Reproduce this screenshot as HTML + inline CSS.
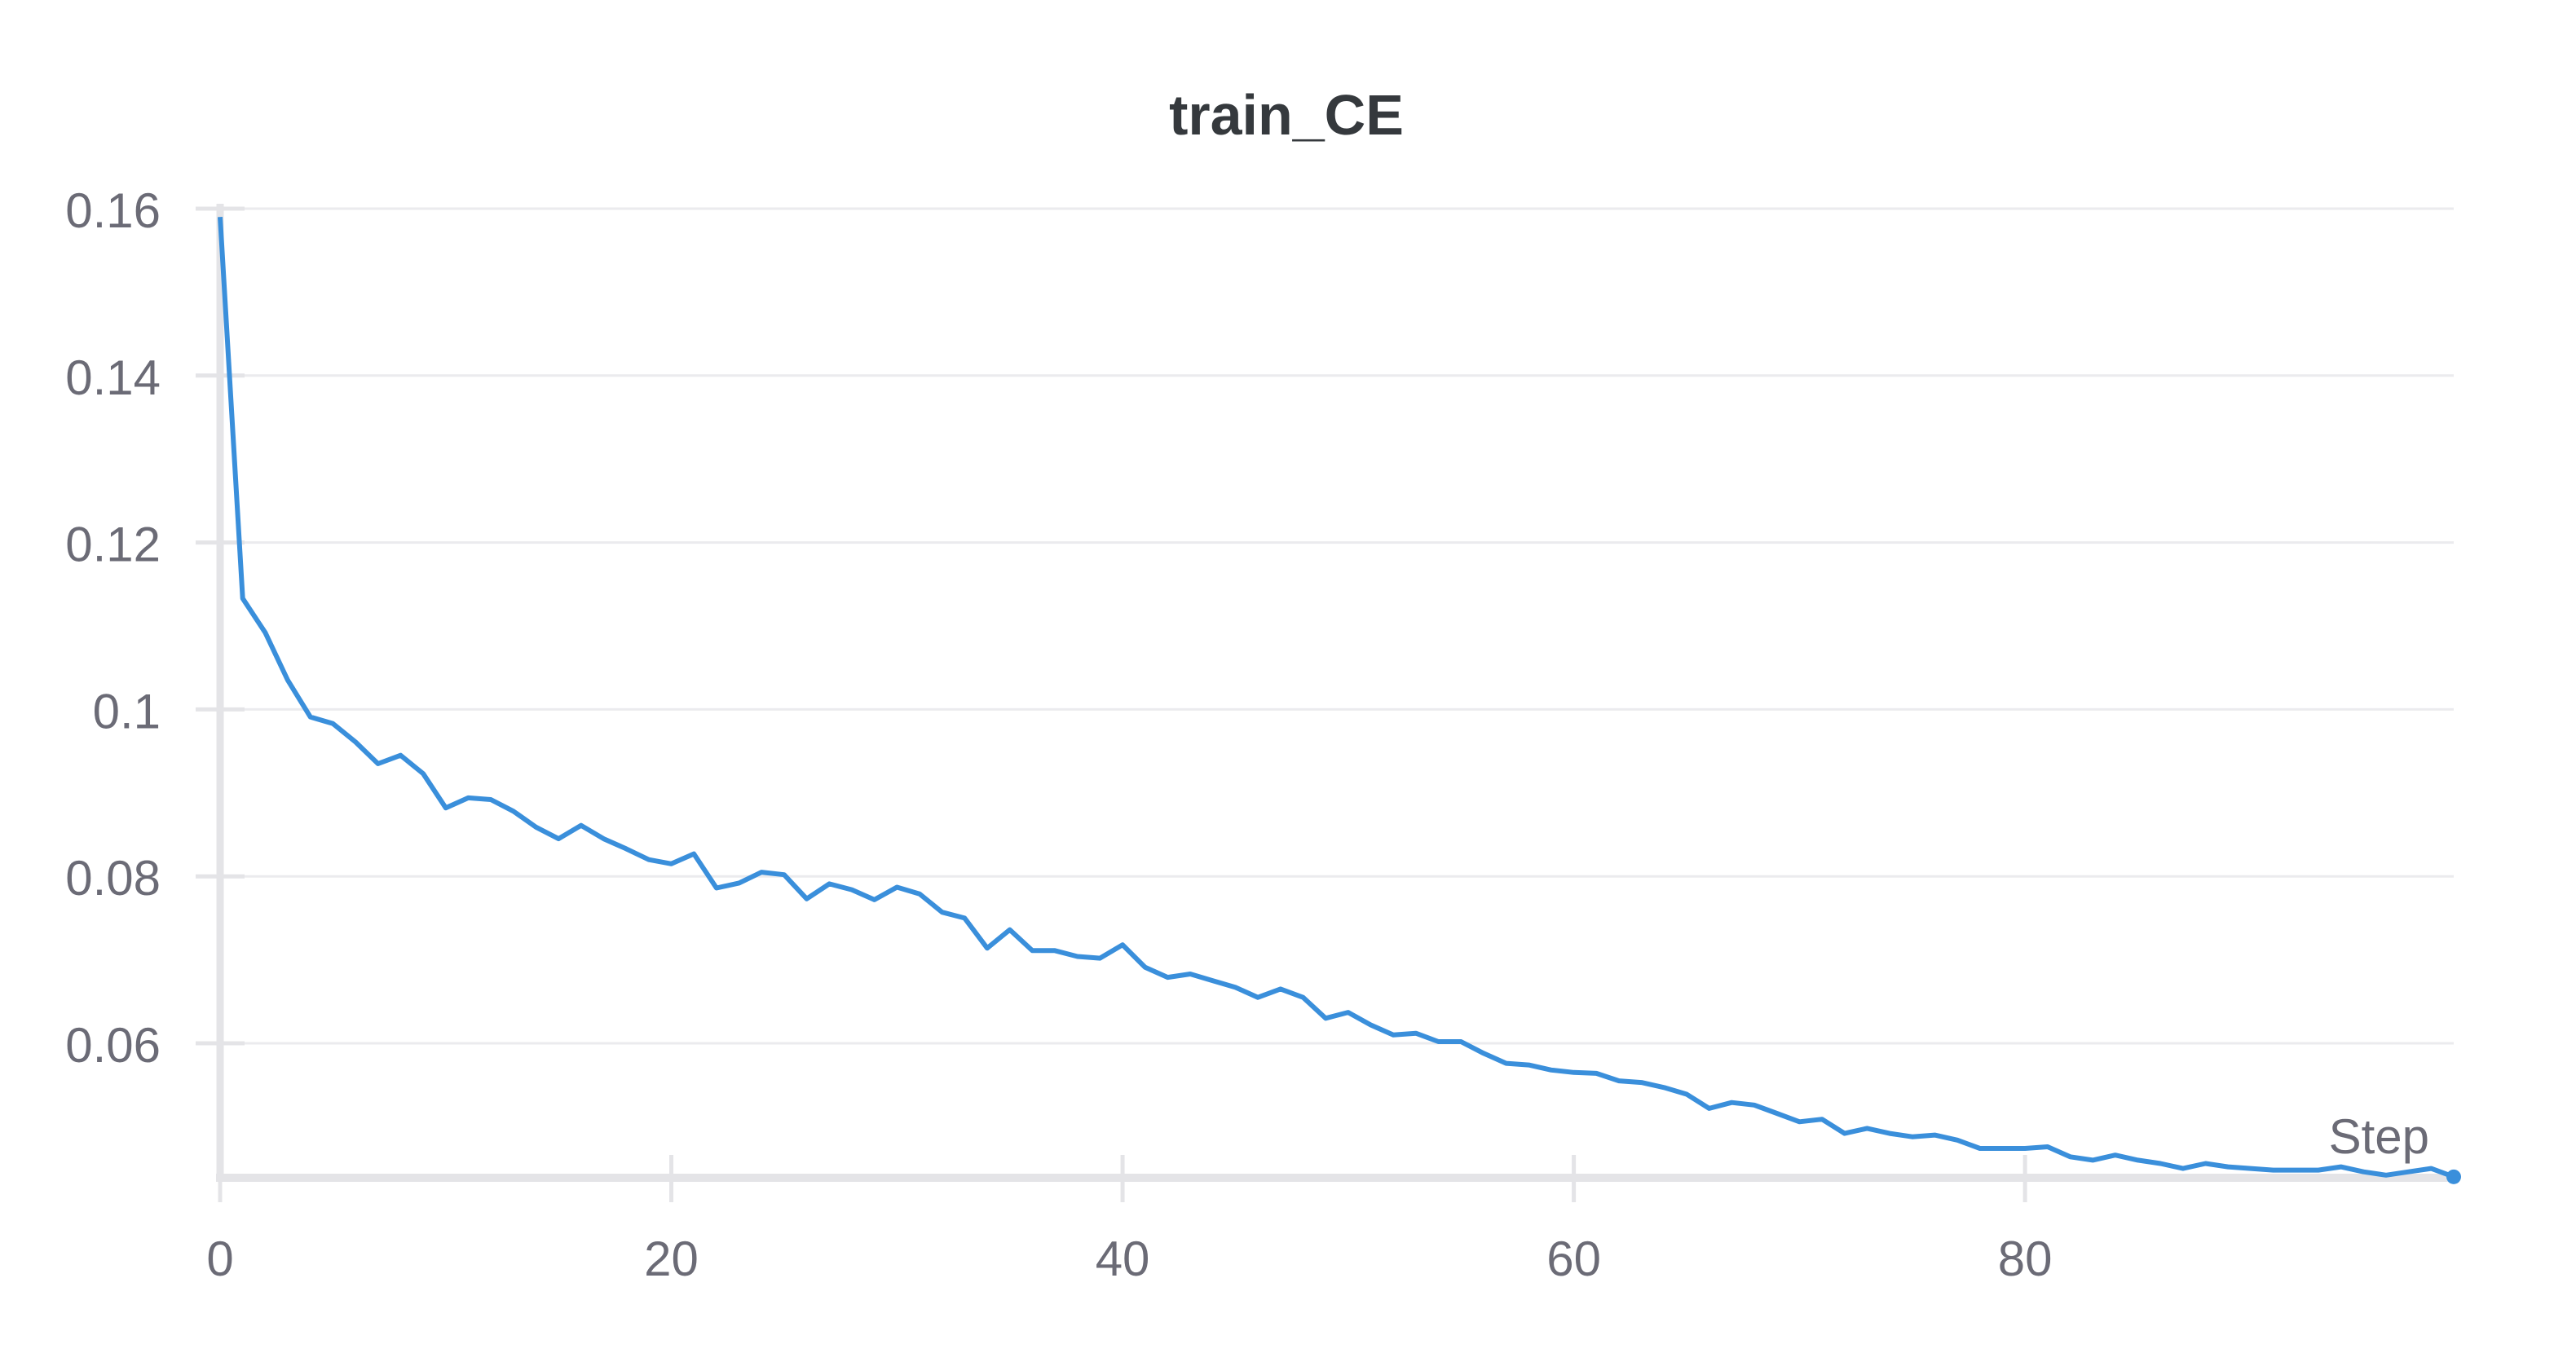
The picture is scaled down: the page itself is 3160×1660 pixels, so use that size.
<!DOCTYPE html>
<html><head><meta charset="utf-8"><style>
html,body{margin:0;padding:0;background:#fff;}
svg{display:block;font-family:"Liberation Sans",sans-serif;}
</style></head><body>
<svg id="chart" width="3160" height="1660" viewBox="0 0 3160 1660">
<text x="1578" y="165" text-anchor="middle" font-size="70" font-weight="bold" fill="#35393d">train_CE</text>
<g id="grid"></g>
<g id="axes"></g>
<g id="series"></g>
<text x="2980" y="1415" text-anchor="end" font-size="60" fill="#6b6b76">Step</text>
</svg>
<script>
const steps = [];
for (let i = 0; i < 100; i++) steps.push(i);
const values = [0.159,0.1133,0.1092,0.1035,0.0991,0.0983,0.0961,0.0935,0.0945,0.0923,
0.0882,0.0894,0.0892,0.0878,0.0859,0.0845,0.0861,0.0845,0.0833,0.0820,
0.0815,0.0827,0.0786,0.0792,0.0805,0.0802,0.0773,0.0791,0.0784,0.0772,
0.0787,0.0779,0.0757,0.0750,0.0714,0.0736,0.0711,0.0711,0.0704,0.0702,
0.0718,0.0691,0.0679,0.0683,0.0675,0.0667,0.0655,0.0665,0.0655,0.0630,
0.0637,0.0622,0.0610,0.0612,0.0602,0.0602,0.0588,0.0576,0.0574,0.0568,
0.0565,0.0564,0.0555,0.0553,0.0547,0.0539,0.0522,0.0529,0.0526,0.0516,
0.0506,0.0509,0.0492,0.0498,0.0492,0.0488,0.0490,0.0484,0.0474,0.0474,
0.0474,0.0476,0.0464,0.0460,0.0466,0.0460,0.0456,0.0450,0.0456,0.0452,
0.0450,0.0448,0.0448,0.0448,0.0452,0.0446,0.0442,0.0446,0.0450,0.0440];
const yTicks = [0.06,0.08,0.1,0.12,0.14,0.16];
const yTickLabels = ["0.06","0.08","0.1","0.12","0.14","0.16"];
const xTicks = [0,20,40,60,80];
const xTickLabels = ["0","20","40","60","80"];

const NS = "http://www.w3.org/2000/svg";
const X0 = 270, X1 = 3010, XMAX = 99;
const Y_TOP = 256, Y_PER = 10240;
const x = v => X0 + (v / XMAX) * (X1 - X0);
const y = v => Y_TOP + (0.16 - v) * Y_PER;
function mk(tag, attrs, parent) {
  const e = document.createElementNS(NS, tag);
  for (const k in attrs) e.setAttribute(k, attrs[k]);
  parent.appendChild(e);
  return e;
}
const grid = document.getElementById('grid');
const axes = document.getElementById('axes');
const series = document.getElementById('series');
yTicks.forEach((t, i) => {
  const g = mk('line', {x1: X0, x2: X1, y1: y(t), y2: y(t), stroke: '#ebebee', 'stroke-width': 3}, grid);
  
  
  const tk = mk('line', {x1: 240, x2: 300, y1: y(t), y2: y(t), stroke: '#e4e4e7', 'stroke-width': 5}, axes);
  
  
  const lb = mk('text', {x: 197, y: y(t) + 23, 'text-anchor': 'end', 'font-size': 60, fill: '#6b6b76'}, axes);
  lb.textContent = yTickLabels[i];
  
  
});
const ya = mk('line', {x1: X0, x2: X0, y1: 250, y2: 1450, stroke: '#e4e4e7', 'stroke-width': 9}, axes);


const xa = mk('line', {x1: 265, x2: X1, y1: 1445, y2: 1445, stroke: '#e4e4e7', 'stroke-width': 10}, axes);


xTicks.forEach((t, i) => {
  const tk = mk('line', {x1: x(t), x2: x(t), y1: 1417, y2: 1475, stroke: '#e4e4e7', 'stroke-width': 5}, axes);
  
  
  const lb = mk('text', {x: x(t), y: 1565, 'text-anchor': 'middle', 'font-size': 60, fill: '#6b6b76'}, axes);
  lb.textContent = xTickLabels[i];
  
  
});
const d = values.map((v, i) => (i ? 'L' : 'M') + x(steps[i]).toFixed(1) + ' ' + y(v).toFixed(1)).join(' ');
const path = mk('path', {d: d, fill: 'none', stroke: '#3a8fdb', 'stroke-width': 6, 'stroke-linejoin': 'round'}, series);


const last = values.length - 1;
const dot = mk('circle', {cx: x(steps[last]), cy: y(values[last]), r: 9, fill: '#3a8fdb'}, series);


</script>
</body></html>
